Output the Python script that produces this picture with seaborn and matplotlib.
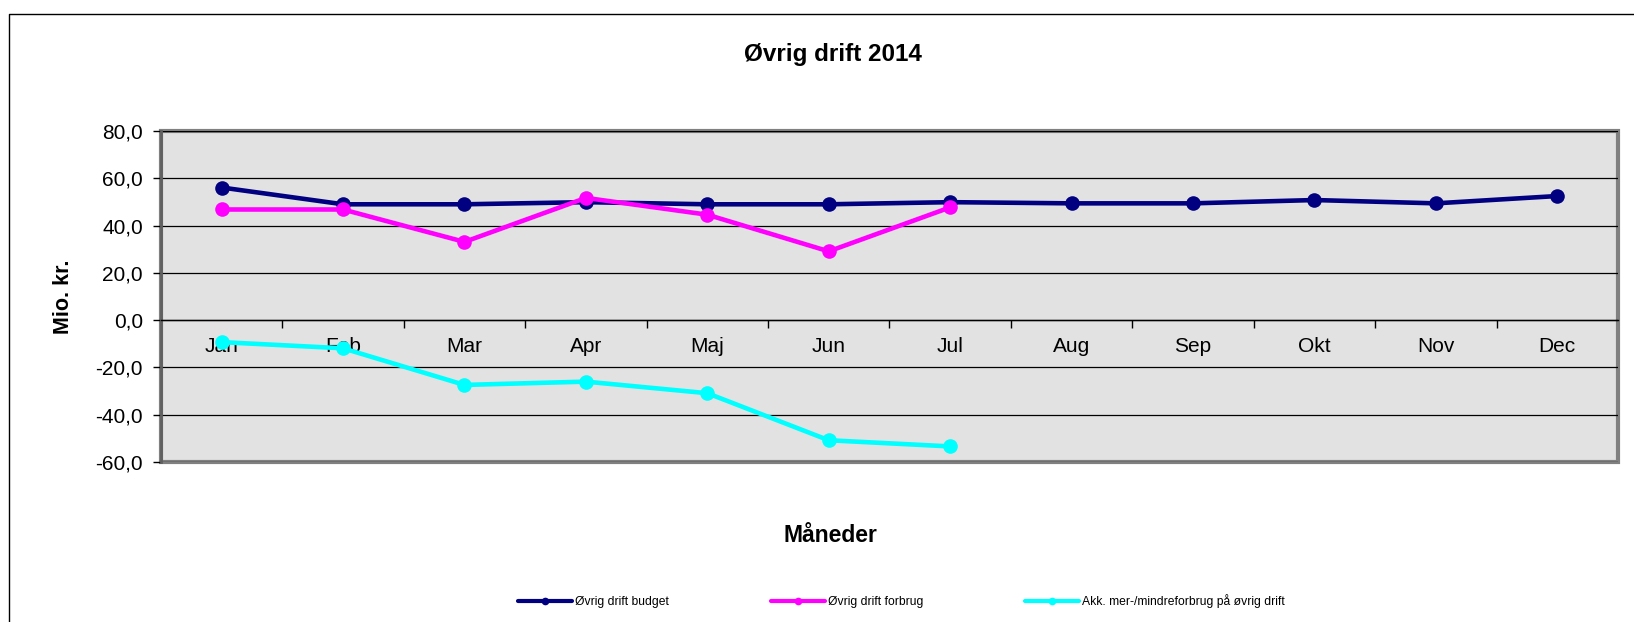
"""
Øvrig drift 2014 - budget, forbrug og akkumuleret mer-/mindreforbrug.
Line chart in the old Excel style (grey plot area, x labels on the zero line).
"""

import matplotlib.pyplot as plt
import pandas as pd
import seaborn as sns
from matplotlib.lines import Line2D
from matplotlib.ticker import FixedLocator, FuncFormatter

# ── Data ───────────────────────────────────────────────────────────────
months = ["Jan", "Feb", "Mar", "Apr", "Maj", "Jun",
          "Jul", "Aug", "Sep", "Okt", "Nov", "Dec"]
budget = [56.1, 49.0, 49.0, 49.9, 49.0, 49.0, 49.9, 49.4, 49.4, 50.8, 49.4, 52.5]
forbrug = [46.8, 46.8, 33.1, 51.7, 44.6, 29.1, 47.7]
akk = [-9.3, -11.9, -27.4, -26.0, -30.9, -50.8, -53.4]

series_names = ["Øvrig drift budget", "Øvrig drift forbrug",
                "Akk. mer-/mindreforbrug på øvrig drift"]
colors = ["#000080", "#FF00FF", "#00FFFF"]

frames = []
for name, vals in zip(series_names, [budget, forbrug, akk]):
    frames.append(pd.DataFrame({
        "idx": range(len(vals)),
        "value": vals,
        "serie": name,
    }))
df = pd.concat(frames, ignore_index=True)

# ── Style ──────────────────────────────────────────────────────────────
sns.set_style("white")
plt.rcParams["font.family"] = ["Liberation Sans", "DejaVu Sans"]
for key in ["text.color", "axes.labelcolor", "xtick.color", "ytick.color"]:
    plt.rcParams[key] = "black"

fig = plt.figure(figsize=(16.34, 6.22), dpi=100)
ax = fig.add_axes([0.0985, 0.2572, 0.8917, 0.5322])

sns.lineplot(
    data=df, x="idx", y="value", hue="serie",
    hue_order=series_names, palette=colors,
    marker="o", markersize=10.5, markeredgewidth=0,
    linewidth=3.3, legend=False, ax=ax,
)

ax.set_xlim(-0.5, len(months) - 0.5)
ax.set_ylim(-60, 80)

# plot area
ax.set_facecolor("#E2E2E2")
ax.patch.set_edgecolor("#808080")
ax.patch.set_linewidth(3)
for side in ["top", "right"]:
    ax.spines[side].set_visible(False)
ax.spines["left"].set_color("#606060")
ax.spines["left"].set_linewidth(2)
ax.spines["bottom"].set_position(("data", 0))
ax.spines["bottom"].set_color("black")
ax.spines["bottom"].set_linewidth(1)

# y axis
ax.set_yticks(range(-60, 81, 20))
ax.yaxis.set_major_formatter(FuncFormatter(lambda v, p: f"{v:.1f}".replace(".", ",")))
ax.yaxis.grid(True, color="black", linewidth=0.9)
ax.set_axisbelow(True)
ax.tick_params(axis="y", left=True, length=6, width=1, color="black",
               labelsize=15, pad=7)
ax.set_ylabel("Mio. kr.", fontsize=15.5, fontweight="bold")
ax.yaxis.set_label_coords(-0.060, 0.5)

# x axis: labels under the zero line, tick marks between categories
ax.set_xticks(range(len(months)))
ax.set_xticklabels(months)
ax.xaxis.set_minor_locator(FixedLocator([i + 0.5 for i in range(len(months) - 1)]))
ax.tick_params(axis="x", which="major", length=0, labelsize=15, pad=12)
ax.tick_params(axis="x", which="minor", bottom=True, length=6, width=1,
               color="black", direction="out")
ax.set_xlabel("")

# title and x label centred on the chart area
fig.text(0.51, 0.913, "Øvrig drift 2014", ha="center", va="center",
         fontsize=17.5, fontweight="bold")
fig.text(0.508, 0.139, "Måneder", ha="center", va="center",
         fontsize=16.5, fontweight="bold")

# chart area frame (only left and top visible in the crop)
fig.add_artist(Line2D([0.0055, 0.0055, 1.0], [0.0, 0.9775, 0.9775],
                      transform=fig.transFigure, color="black", linewidth=1))

# legend
handles = [Line2D([], [], color=c, linewidth=3, marker="o", markersize=5.5,
                  markeredgewidth=0) for c in colors]
fig.legend(handles, series_names, loc="center left",
           bbox_to_anchor=(0.317, 0.034), ncol=3, frameon=False,
           fontsize=8.7, handlelength=4.5, handletextpad=0.25,
           columnspacing=8.4, borderpad=0, borderaxespad=0)

fig.savefig("out.png", dpi=100)
plt.close(fig)
